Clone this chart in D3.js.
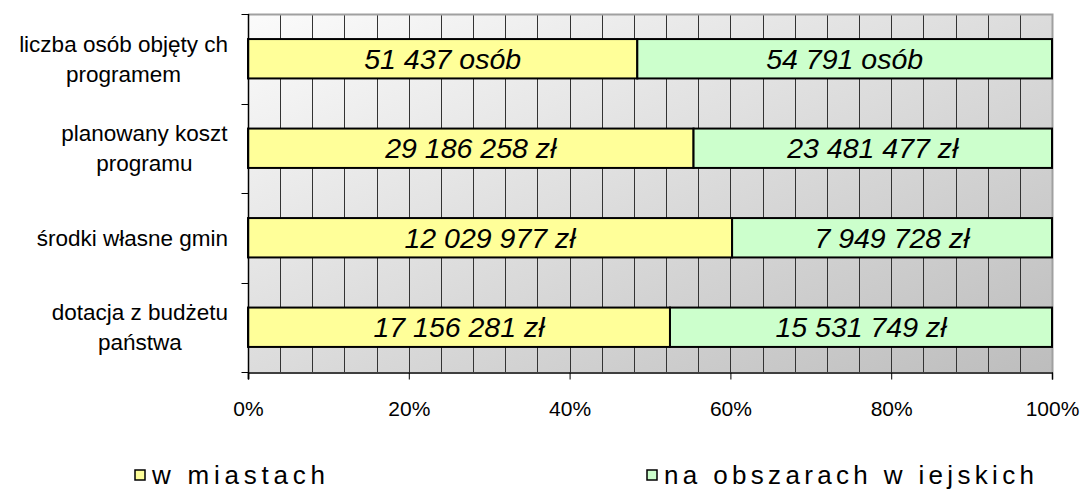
<!DOCTYPE html>
<meta charset="utf-8">
<style>
body { margin: 0; background: #fff; }
text { font-family: Arial, "Liberation Sans", sans-serif; fill: #000; }
.grid line { stroke: #333; stroke-width: 1px; shape-rendering: crispEdges; }
.val { font-style: italic; font-size: 28.5px; }
.cat { font-size: 22.5px; }
.tick text { font-size: 21px; }
.leg { font-size: 26px; }
</style>
<body>
<script src="https://d3js.org/d3.v7.min.js"></script>
<script>

// categories (lines of each label)
var categories = [
    ["liczba osób objęty ch", "programem"],
    ["planowany  koszt", "programu"],
    ["środki własne gmin"],
    ["dotacja z budżetu", "państwa"]
];
var cityValues  = [51437, 29186258, 12029977, 17156281];
var ruralValues = [54791, 23481477, 7949728, 15531749];
var cityLabels  = ["51 437 osób", "29 186 258 zł", "12 029 977 zł", "17 156 281 zł"];
var ruralLabels = ["54 791 osób", "23 481 477 zł", "7 949 728 zł", "15 531 749 zł"];
var seriesNames = ["w  miastach", "na obszarach w iejskich"];
var seriesColors = ["#ffff99", "#ccffcc"];
var xTicks = [0, 0.2, 0.4, 0.6, 0.8, 1];

var W = 1083, H = 490;
var plotL = 248, plotR = 1052, plotT = 14, plotB = 372;

var svg = d3.select("body").append("svg")
    .attr("width", W)
    .attr("height", H);

var defs = svg.append("defs");
var grad = defs.append("linearGradient")
    .attr("id", "bg")
    .attr("x1", "0").attr("y1", "0")
    .attr("x2", "1").attr("y2", "1");
grad.append("stop").attr("offset", "0").attr("stop-color", "#fbfbfb");
grad.append("stop").attr("offset", "1").attr("stop-color", "#bdbdbd");

var keys = categories.map(function (d, i) { return i; });

var x = d3.scaleLinear().domain([0, 1]).range([plotL, plotR]);
var y = d3.scaleBand().domain(keys).range([plotT, plotB]).paddingInner(0.56).paddingOuter(0.28);

// background
svg.append("rect")
    .attr("x", plotL).attr("y", plotT)
    .attr("width", plotR - plotL).attr("height", plotB - plotT)
    .attr("fill", "url(#bg)");

// vertical grid every 4%
svg.append("g")
    .attr("class", "grid")
    .selectAll("line")
    .data(d3.range(1, 26))
    .enter().append("line")
    .attr("x1", function (d) { return Math.round(x(d * 0.04)) + 0.5; })
    .attr("x2", function (d) { return Math.round(x(d * 0.04)) + 0.5; })
    .attr("y1", plotT).attr("y2", plotB);

// border top/right
svg.append("path")
    .attr("d", "M" + plotL + "," + (plotT + 0.5) + "H" + (plotR + 0.5) + "V" + plotB)
    .attr("fill", "none")
    .attr("stroke", "#a0a0a0")
    .attr("stroke-width", 2);

// bars
var rows = keys.map(function (i) {
    var tot = cityValues[i] + ruralValues[i];
    return {i: i, p: cityValues[i] / tot};
});

var bars = svg.append("g");
rows.forEach(function (r) {
    var segs = [
        {x0: 0, x1: r.p, c: seriesColors[0], t: cityLabels[r.i]},
        {x0: r.p, x1: 1, c: seriesColors[1], t: ruralLabels[r.i]}
    ];
    segs.forEach(function (s) {
        bars.append("rect")
            .attr("x", x(s.x0))
            .attr("y", y(r.i))
            .attr("width", x(s.x1) - x(s.x0))
            .attr("height", y.bandwidth())
            .attr("fill", s.c)
            .attr("stroke", "#000")
            .attr("stroke-width", 2);
        bars.append("text")
            .attr("class", "val")
            .attr("x", (x(s.x0) + x(s.x1)) / 2)
            .attr("y", y(r.i) + y.bandwidth() / 2)
            .attr("dy", "0.35em")
            .attr("text-anchor", "middle")
            .text(s.t);
    });
});

// y axis
var yAxis = svg.append("g")
    .attr("transform", "translate(" + (plotL + 0.5) + ",0)");
yAxis.append("line")
    .attr("x1", 0).attr("x2", 0)
    .attr("y1", plotT).attr("y2", plotB + 7)
    .attr("stroke", "#000").attr("stroke-width", 1.5);
yAxis.selectAll(".yt")
    .data(d3.range(0, 5))
    .enter().append("line")
    .attr("x1", -7).attr("x2", 0)
    .attr("y1", function (d) { return Math.round(plotT + d * y.step()) + 0.5; })
    .attr("y2", function (d) { return Math.round(plotT + d * y.step()) + 0.5; })
    .attr("stroke", "#000");

// x axis
var xAxis = svg.append("g")
    .attr("transform", "translate(0," + (plotB + 0.5) + ")")
    .call(d3.axisBottom(x).tickValues(xTicks).tickFormat(d3.format(".0%")).tickSize(7).tickPadding(22));
xAxis.select(".domain").attr("stroke-width", 1.5);
xAxis.attr("font-family", null).attr("font-size", null);

// category labels
var catG = svg.append("g");
categories.forEach(function (lines, i) {
    var cy = y(i) + y.bandwidth() / 2;
    var t = catG.append("text").attr("class", "cat").attr("text-anchor", "middle");
    lines.forEach(function (ln, j) {
        t.append("tspan")
            .attr("x", 0)
            .attr("y", cy + (j - (lines.length - 1) / 2) * 30)
            .attr("dy", "0.35em")
            .text(ln);
    });
    var bw = t.node().getBBox().width;
    t.attr("transform", "translate(" + (228 - bw / 2) + ",0)");
});

// legend
var legX = [135, 647];
var legLen = [173, 370];
var leg = svg.append("g");
seriesNames.forEach(function (n, i) {
    leg.append("rect")
        .attr("x", legX[i]).attr("y", 470)
        .attr("width", 10).attr("height", 10)
        .attr("fill", seriesColors[i])
        .attr("stroke", "#000").attr("stroke-width", 1.5);
    leg.append("text")
        .attr("class", "leg")
        .attr("x", legX[i] + 17).attr("y", 484)
        .attr("textLength", legLen[i])
        .attr("lengthAdjust", "spacing")
        .text(n);
});

</script>
</body>
